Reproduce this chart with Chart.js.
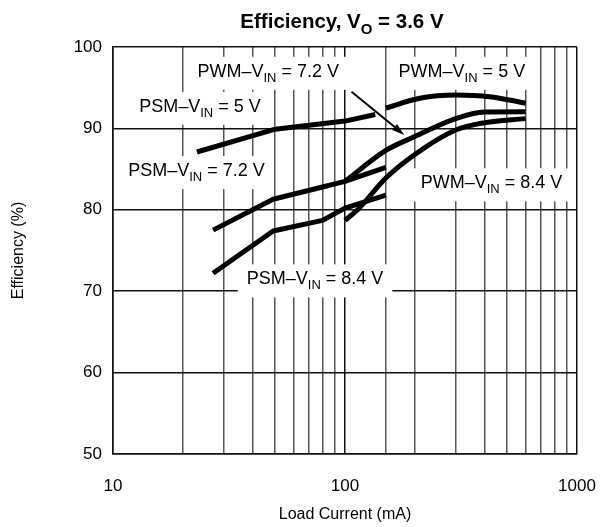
<!DOCTYPE html>
<html>
<head>
<meta charset="utf-8">
<script src="https://cdn.jsdelivr.net/npm/chart.js@4.4.1/dist/chart.umd.min.js"></script>
<style>
  body { margin: 0; background: #fff; }
  #wrap { width: 603px; height: 527px; }
</style>
</head>
<body>
<div id="wrap"><canvas id="myChart"></canvas></div>
<script>
// load current (mA) and efficiency (%)
let psm5X = [23, 50, 100, 135];
let psm5Y = [87.1, 89.9, 90.9, 91.7];
let pwm5X = [150, 210, 300, 420, 600];
let pwm5Y = [92.5, 93.7, 94.1, 93.9, 93.1];
let psm72X = [27, 49, 80, 100, 150];
let psm72Y = [77.5, 81.3, 82.8, 83.5, 85.2];
let pwm72X = [100, 150, 200, 300, 400, 600];
let pwm72Y = [83.5, 87.3, 89.0, 91.2, 92.0, 92.05];
let psm84X = [27, 49, 80, 100, 150];
let psm84Y = [72.2, 77.4, 78.7, 80.2, 81.8];
let pwm84X = [100, 115, 150, 200, 300, 400, 600];
let pwm84Y = [78.7, 80.2, 83.9, 86.8, 89.8, 90.7, 91.2];

// curve labels: [before, subscript, after, x, y]
let labelText = [
  ["PWM\u2013V", "IN", " = 7.2 V", 46.7, 97.2],
  ["PSM\u2013V", "IN", " = 5 V", 23.7, 92.9],
  ["PWM\u2013V", "IN", " = 5 V", 319, 97.2],
  ["PSM\u2013V", "IN", " = 7.2 V", 22.9, 85.0],
  ["PWM\u2013V", "IN", " = 8.4 V", 428, 83.5],
  ["PSM\u2013V", "IN", " = 8.4 V", 74.3, 71.7],
];
let arrowFrom = [106.7, 94.5];
let arrowTo = [180, 89.2];

const FONT = "'Liberation Sans', Arial, Helvetica, sans-serif";

function pts(xs, ys) {
  let out = [];
  for (var i = 0; i < xs.length; i++) out.push({ x: xs[i], y: ys[i] });
  return out;
}

function drawSub(c, parts, x, y, size, bold, center) {
  let w = bold ? "bold " : "";
  c.font = w + size + "px " + FONT;
  let w1 = c.measureText(parts[0]).width;
  let w3 = c.measureText(parts[2]).width;
  c.font = w + Math.round(size * 0.72) + "px " + FONT;
  let w2 = c.measureText(parts[1]).width;
  let total = w1 + w2 + w3;
  let x0 = center ? x - total / 2 : x;
  c.textBaseline = "alphabetic";
  c.textAlign = "left";
  c.font = w + size + "px " + FONT;
  c.fillText(parts[0], x0, y);
  c.font = w + Math.round(size * 0.72) + "px " + FONT;
  c.fillText(parts[1], x0 + w1, y + size * 0.28);
  c.font = w + size + "px " + FONT;
  c.fillText(parts[2], x0 + w1 + w2, y);
  return total;
}

const overlay = {
  id: "overlay",
  beforeDatasetsDraw(chart) {
    let c = chart.ctx;
    let sx = chart.scales.x, sy = chart.scales.y;
    c.save();
    labelText.forEach(function (l) {
      let px = sx.getPixelForValue(l[3]);
      let py = sy.getPixelForValue(l[4]);
      c.font = "18px " + FONT;
      let tw = c.measureText(l[0] + l[2]).width;
      c.font = "13px " + FONT;
      tw += c.measureText(l[1]).width;
      c.fillStyle = "#fff";
      c.fillRect(px - tw / 2 - 9, py - 13, tw + 18, 33);
      c.fillStyle = "#000";
      drawSub(c, [l[0], l[1], l[2]], px, py + 7, 18, false, true);
    });
    c.restore();
  },
  afterDatasetsDraw(chart) {
    let c = chart.ctx;
    let sx = chart.scales.x, sy = chart.scales.y;
    let x1 = sx.getPixelForValue(arrowFrom[0]), y1 = sy.getPixelForValue(arrowFrom[1]);
    let x2 = sx.getPixelForValue(arrowTo[0]), y2 = sy.getPixelForValue(arrowTo[1]);
    let a = Math.atan2(y2 - y1, x2 - x1);
    c.save();
    c.strokeStyle = "#000";
    c.fillStyle = "#000";
    c.lineWidth = 2;
    c.beginPath();
    c.moveTo(x1, y1);
    c.lineTo(x2 - 8 * Math.cos(a), y2 - 8 * Math.sin(a));
    c.stroke();
    c.beginPath();
    c.moveTo(x2, y2);
    c.lineTo(x2 - 13 * Math.cos(a - 0.3), y2 - 13 * Math.sin(a - 0.3));
    c.lineTo(x2 - 13 * Math.cos(a + 0.3), y2 - 13 * Math.sin(a + 0.3));
    c.closePath();
    c.fill();
    // title
    c.fillStyle = "#000";
    drawSub(c, ["Efficiency, V", "O", " = 3.6 V"], 342, 28, 20.5, true, true);
    c.restore();
  },
};

function line(xs, ys, smooth) {
  let ds = {
    data: pts(xs, ys),
    borderColor: "#000",
    borderWidth: 5,
    pointRadius: 0,
    tension: 0,
    fill: false,
    borderCapStyle: "butt",
    borderJoinStyle: "round",
  };
  if (smooth) ds.cubicInterpolationMode = "monotone";
  return ds;
}

var ctx = document.getElementById("myChart");
var chart = new Chart(ctx, {
  type: "line",
  data: {
    datasets: [
      line(psm5X, psm5Y, false),
      line(pwm5X, pwm5Y, true),
      line(psm72X, psm72Y, false),
      line(pwm72X, pwm72Y, true),
      line(psm84X, psm84Y, false),
      line(pwm84X, pwm84Y, true),
    ],
  },
  plugins: [overlay],
  options: {
    responsive: true,
    maintainAspectRatio: false,
    animation: false,
    layout: { padding: { top: 47, right: 26, left: 0, bottom: 0 } },
    plugins: { legend: { display: false }, tooltip: { enabled: false } },
    scales: {
      x: {
        type: "logarithmic",
        min: 10,
        max: 1000,
        afterFit: function (s) {
          s.height = 73;
          s.paddingLeft = 0;
          s.paddingRight = 0;
        },
        grid: {
          drawTicks: false,
          lineWidth: 1.5,
          color: function (c) {
            let v = c.tick ? c.tick.value : 0;
            return [10, 100, 1000].indexOf(v) >= 0 ? "#111" : "#555";
          },
        },
        border: { display: true, color: "#111", width: 1.5 },
        ticks: {
          color: "#000",
          padding: 22,
          maxRotation: 0,
          autoSkip: false,
          font: { family: FONT, size: 17 },
          callback: function (v) {
            return [10, 100, 1000].indexOf(v) >= 0 ? String(v) : "";
          },
        },
        title: {
          display: true,
          text: "Load Current (mA)",
          color: "#000",
          font: { family: FONT, size: 16 },
          padding: { top: 0, bottom: 3 },
        },
      },
      y: {
        min: 50,
        max: 100,
        afterFit: function (s) { s.width = 113; },
        grid: { drawTicks: false, lineWidth: 1.5, color: "#111" },
        border: { display: true, color: "#111", width: 1.5 },
        ticks: {
          stepSize: 10,
          color: "#000",
          padding: 11,
          font: { family: FONT, size: 17 },
        },
        title: {
          display: true,
          text: "Efficiency (%)",
          color: "#000",
          font: { family: FONT, size: 16 },
          padding: { top: 9, bottom: 0 },
        },
      },
    },
  },
});
</script>
</body>
</html>
